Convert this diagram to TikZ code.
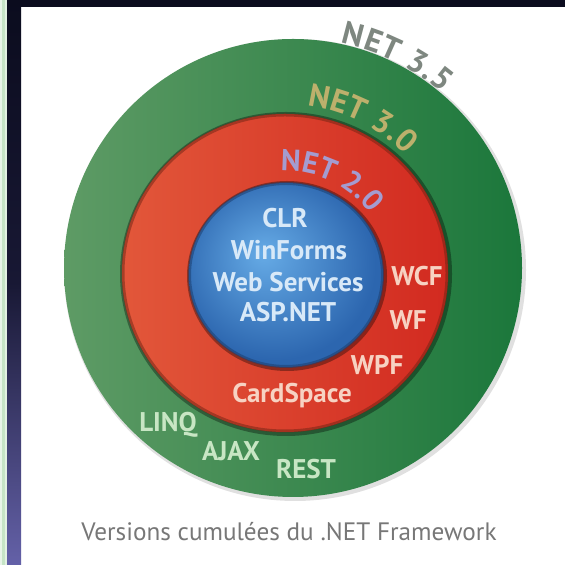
\documentclass[tikz,border=0pt]{standalone}
\usepackage{fontspec}
\setmainfont{PT Sans}
\usetikzlibrary{decorations.text}
\definecolor{frameD}{HTML}{0B0C1E}
\definecolor{frameP}{HTML}{6461A8}
\definecolor{frameM}{HTML}{181834}
\definecolor{stripG}{HTML}{C6E4C6}
\definecolor{greenL}{HTML}{5E9B65}
\definecolor{greenM}{HTML}{267F42}
\definecolor{greenD}{HTML}{1B773B}
\definecolor{redL}{HTML}{E2573A}
\definecolor{redM}{HTML}{DC3E2C}
\definecolor{redD}{HTML}{D22A20}
\definecolor{redRim}{HTML}{6E2414}
\definecolor{blueI}{HTML}{66ABE6}
\definecolor{blueO}{HTML}{2C66AF}
\definecolor{blueRim}{HTML}{1C3F70}
\definecolor{innerT}{HTML}{D8E9F8}
\definecolor{redT}{HTML}{F7D2C2}
\definecolor{grnT}{HTML}{C8E6C4}
\definecolor{capT}{HTML}{777777}
\definecolor{t35}{HTML}{7E8780}
\definecolor{t30}{HTML}{BDB06C}
\definecolor{t20}{HTML}{A49CD0}
\pgfdeclareradialshading{blueball}{\pgfpoint{-6bp}{6bp}}{color(0bp)=(blueI); color(26bp)=(blueO); color(50bp)=(blueO)}
\newcommand{\arcf}{\fontsize{16}{18}\selectfont\bfseries}
\newcommand{\arcg}{\fontsize{15}{17}\selectfont\bfseries}
\begin{document}
\begin{tikzpicture}[x=0.5pt,y=0.5pt,
  lbl/.style={anchor=base, inner sep=0pt, font=\fontsize{13.5}{16}\selectfont\bfseries},
  innerlbl/.style={lbl, text=innerT},
  redlbl/.style={lbl, text=redT},
  grnlbl/.style={lbl, text=grnT},
  caplbl/.style={anchor=base, inner sep=0pt, text=capT, font=\fontsize{12.6}{15}\selectfont},
  arctext/.style={decorate, decoration={text along path, text align=fit to path, text={|\arcf|#1}}},
  arctextg/.style={decorate, decoration={text along path, text align=fit to path, text={|\arcg|#1}}}
]
\useasboundingbox (0,0) rectangle (565,565);
% frame
\fill[white] (0,0) rectangle (565,565);
\fill[stripG] (0,0) rectangle (7,565);
\fill[white!60!stripG] (0,0) rectangle (1.5,565);
\fill[white!50!stripG] (5,0) rectangle (7,565);
\shade[top color=frameD, bottom color=frameP, middle color=frameM] (7,0) rectangle (21,565);
\fill[frameD] (7,558) rectangle (565,565);
% green circle
\fill[black, opacity=0.12] (295,295) circle[radius=231];
\shade[left color=greenL, middle color=greenM, right color=greenD] (293,297) circle[radius=229];
% red circle
\fill[black, opacity=0.35] (286,291) ellipse[x radius=166, y radius=162];
\shade[left color=redL, middle color=redM, right color=redD] (285,292) ellipse[x radius=163, y radius=159];
\draw[redRim, opacity=0.5, line width=1.5] (285,292) ellipse[x radius=162, y radius=158];
% blue circle
\fill[black, opacity=0.35] (287,289) ellipse[x radius=100, y radius=95];
\shade[shading=blueball] (286,290) ellipse[x radius=97, y radius=92];
\draw[blueRim, opacity=0.55, line width=1.5] (286,290) ellipse[x radius=96.5, y radius=91.5];
% arc labels
\begin{scope}[shift={(293,297)}]
  \path[arctext={NET 3.5}, decoration={text color=t35}] (78:230) arc[start angle=78, end angle=49.5, radius=230];
\end{scope}
\begin{scope}[shift={(285,292)}]
  \path[arctext={NET 3.0}, decoration={text color=t30}] (82.5:169) arc[start angle=82.5, end angle=44.5, radius=169];
\end{scope}
\begin{scope}[shift={(286,290)}]
  \path[arctextg={NET 2.0}, decoration={text color=t20}] (93:104) arc[start angle=93, end angle=36, radius=104];
\end{scope}
% inner labels
\node[innerlbl] (clr) at (285,337) {CLR};
\node[innerlbl] (winforms) at (289,305) {WinForms};
\node[innerlbl] (websvc) at (288,273) {Web Services};
\node[innerlbl] (aspnet) at (288,243) {ASP.NET};
% red ring labels
\node[redlbl] (wcf) at (417,279) {WCF};
\node[redlbl] (wf) at (408,235) {WF};
\node[redlbl] (wpf) at (377,190) {WPF};
\node[redlbl] (cardspace) at (292,162) {CardSpace};
% green ring labels
\node[grnlbl] (linq) at (168,133) {LINQ};
\node[grnlbl] (ajax) at (231,104) {AJAX};
\node[grnlbl] (rest) at (306,86) {REST};
% caption
\node[caplbl] (caption) at (289,25) {Versions cumulées du .NET Framework};
\end{tikzpicture}
\end{document}
